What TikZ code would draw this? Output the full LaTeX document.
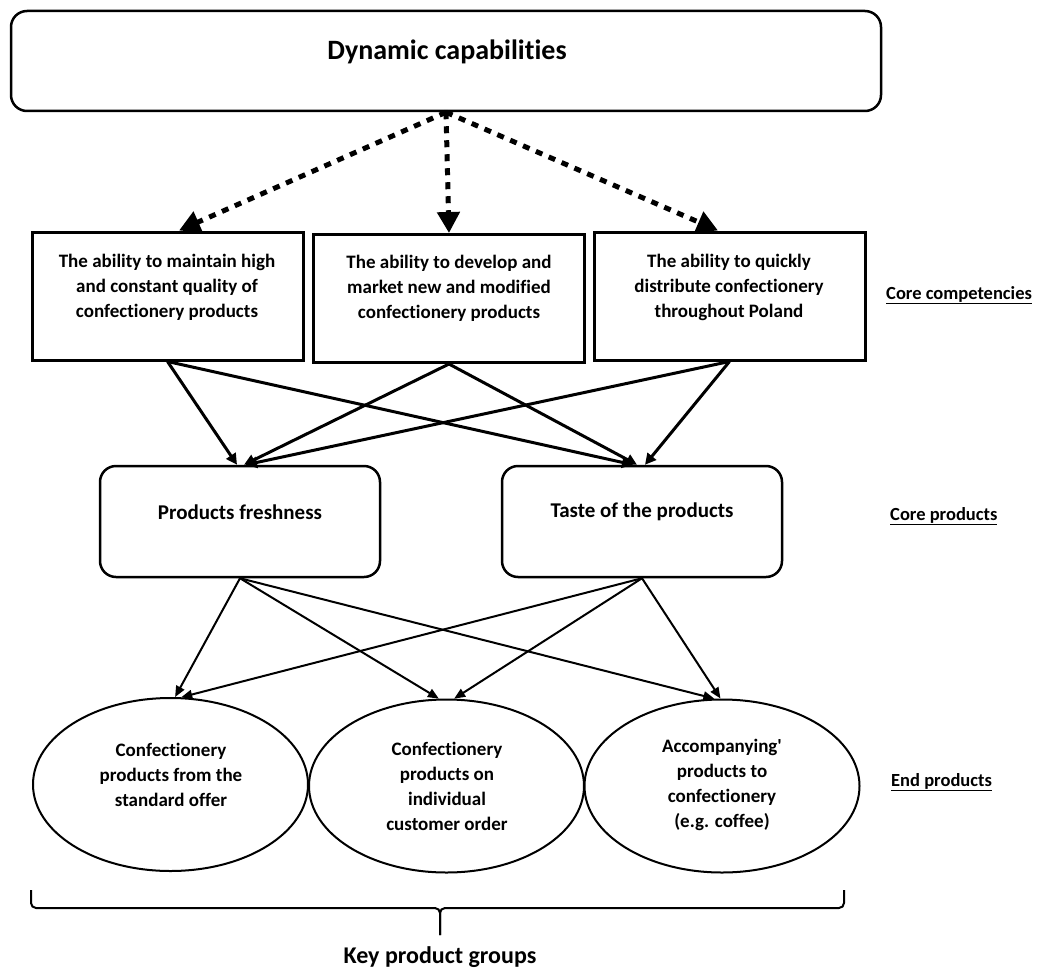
\documentclass[tikz,border=0pt]{standalone}
\usepackage{fontspec}
\setmainfont{Carlito}[Ligatures=NoCommon]
\usetikzlibrary{arrows.meta,shapes.geometric}

\begin{document}
\begin{tikzpicture}[x=1pt,y=-1pt,
    txt/.style={font=\bfseries\fontsize{19}{25}\selectfont,align=center},
    compbox/.style={draw,line width=3pt,minimum width=271pt,minimum height=128pt},
    prodbox/.style={draw,line width=2.5pt,rounded corners=16pt,minimum width=280pt,minimum height=111pt},
    endell/.style={draw,ellipse,line width=2pt,minimum width=275pt,minimum height=173pt},
    levellabel/.style={anchor=west,inner sep=0pt,font=\bfseries\fontsize{18.5}{23}\selectfont},
    dotarrow/.style={line width=5pt,dash pattern=on 7pt off 7pt,-{Triangle[length=21pt,width=22pt]}},
    thickarrow/.style={line width=3pt,-{Triangle[length=11pt,width=11pt]}},
    thinarrow/.style={line width=2pt,-{Triangle[length=11pt,width=9pt]}}]
    \useasboundingbox (0,0) rectangle (1038,971);

    \node[draw,line width=2.5pt,rounded corners=16pt,minimum width=870pt,minimum height=100pt] (dyn) at (446,61) {};
    \node[font=\bfseries\fontsize{28}{32}\selectfont] (dynt) at (447,52) {Dynamic capabilities};

    \node[compbox] (comp1) at (167.5,296) {};
    \node[compbox] (comp2) at (449,298.5) {};
    \node[compbox] (comp3) at (729.5,296) {};
    \node[txt] (comp1t) at (167,287) {The ability to maintain high\\and constant quality of\\confectionery products};
    \node[txt] (comp2t) at (449,288) {The ability to develop and\\market new and modified\\confectionery products};
    \node[txt] (comp3t) at (729,287) {The ability to quickly\\distribute confectionery\\throughout Poland};

    \node[prodbox] (prod1) at (240,521.5) {};
    \node[prodbox] (prod2) at (642,521.5) {};
    \node[font=\bfseries\fontsize{21}{25}\selectfont] (prod1t) at (240,512) {Products freshness};
    \node[font=\bfseries\fontsize{21}{25}\selectfont] (prod2t) at (642,512) {Taste of the products};

    \node[endell] (end1) at (170.5,784.5) {};
    \node[endell] (end2) at (446.5,786) {};
    \node[endell] (end3) at (722,786) {};
    \node[txt] (end1t) at (171,775) {Confectionery\\products from the\\standard offer};
    \node[txt] (end2t) at (447,786.5) {Confectionery\\products on\\individual\\customer order};
    \node[txt] (end3t) at (722,784.5) {Accompanying\textquotesingle\\products to\\confectionery\\(e.g. coffee)};

    \node[levellabel] (lcomp) at (886,295) {\underline{Core competencies}};
    \node[levellabel] (lprod) at (890,516) {\underline{Core products}};
    \node[levellabel] (lend) at (891,782) {\underline{End products}};

    \draw[dotarrow] (dyn.south) -- (comp1.80);
    \draw[dotarrow] (dyn.south) -- (comp2.north);
    \draw[dotarrow] (dyn.south) -- (comp3.100);

    \draw[thickarrow] (comp1.south) -- ([xshift=-3pt]prod1.north);
    \draw[thickarrow] (comp1.south) -- ([xshift=-9pt]prod2.north);
    \draw[thickarrow] (comp2.south) -- ([xshift=4pt]prod1.north);
    \draw[thickarrow] (comp2.south) -- ([xshift=-5pt]prod2.north);
    \draw[thickarrow] (comp3.south) -- ([xshift=6pt]prod1.north);
    \draw[thickarrow] (comp3.south) -- ([xshift=3pt]prod2.north);

    \draw[thinarrow] (prod1.south) -- (end1.87);
    \draw[thinarrow] (prod1.south) -- (end2.95);
    \draw[thinarrow] (prod1.south) -- (end3.95);
    \draw[thinarrow] (prod2.south) -- (end1.83);
    \draw[thinarrow] (prod2.south) -- (end2.85);
    \draw[thinarrow] (prod2.south) -- (end3.91);

    \coordinate (bracel) at (31,890);
    \coordinate (bracer) at (844,890);
    \coordinate (bracetip) at (440,935);
    \draw[line width=2pt,rounded corners=5pt] (bracel) -- (31,908) -- (440,908) -- (bracetip);
    \draw[line width=2pt,rounded corners=5pt] (bracer) -- (844,908) -- (440,908) -- (bracetip);
    \node[font=\bfseries\fontsize{24}{28}\selectfont] (keyg) at (440,957) {Key product groups};
\end{tikzpicture}
\end{document}
